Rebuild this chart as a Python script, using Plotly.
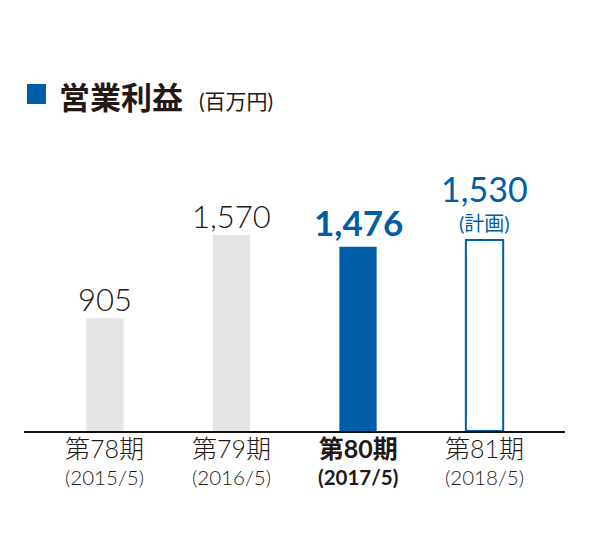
import plotly.graph_objects as go

periods = ["第78期", "第79期", "第80期", "第81期"]
years = ["(2015/5)", "(2016/5)", "(2017/5)", "(2018/5)"]
values = [905, 1570, 1476, 1530]
plan_note = "(計画)"

BLUE = "#005DA8"
GRAY = "#E5E5E5"
DARK = "#231815"
JP = "Noto Sans CJK JP"
MIX = "Lato, Noto Sans CJK JP"

W, H = 600, 534
ML, MR, MT, MB = 24, 35, 100, 103
PW, PH = W - ML - MR, H - MT - MB


def px_x(px):
    return (px - ML) / PW


def px_y(py):
    return (H - MB - py) / PH


fill_colors = [GRAY, GRAY, BLUE, "white"]
line_colors = [GRAY, GRAY, BLUE, BLUE]
line_widths = [0, 0, 0, 2]

x = list(range(len(values)))

fig = go.Figure()
fig.add_trace(go.Bar(
    x=x, y=values, width=0.295,
    marker=dict(color=fill_colors, line=dict(color=line_colors, width=line_widths)),
    hoverinfo="skip",
))

annotations = []
label_styles = [
    dict(size=31, color=DARK, weight=300),
    dict(size=31, color=DARK, weight=300),
    dict(size=35, color=BLUE, weight=700),
    dict(size=34, color=BLUE, weight=400),
]
label_shift = [-2, -2, 2, 3]
for i, v in enumerate(values):
    st = label_styles[i]
    if i == 3:
        annotations.append(dict(
            x=i, y=v, xref="x", yref="y", showarrow=False, yanchor="bottom", yshift=label_shift[i],
            text=f"<span style='font-size:{st['size']}px'>{v:,}</span><br>"
                 f"<span style='font-size:20px'>{plan_note}</span>",
            font=dict(family=MIX, size=22, color=st["color"], weight=st["weight"]),
        ))
    else:
        annotations.append(dict(
            x=i, y=v, xref="x", yref="y", text=f"{v:,}", showarrow=False,
            yanchor="bottom", yshift=label_shift[i],
            font=dict(family=MIX, size=st["size"], color=st["color"], weight=st["weight"]),
        ))

for i, (p, yr) in enumerate(zip(periods, years)):
    bold = i == 2
    t1 = f"<span style='font-size:25px'>{p}</span>"
    t2 = yr
    txt = f"<b>{t1}<br>{t2}</b>" if bold else f"{t1}<br>{t2}"
    annotations.append(dict(
        x=i, y=px_y(431), xref="x", yref="paper", yanchor="top", showarrow=False,
        text=txt,
        font=dict(family=MIX, size=20.5, color=DARK, weight=700 if bold else 300),
    ))

annotations.append(dict(
    x=px_x(57), y=px_y(95), xref="paper", yref="paper", xanchor="left", yanchor="middle",
    showarrow=False, text="<b>営業利益</b>",
    font=dict(family=JP, size=31, color=DARK),
))
annotations.append(dict(
    x=px_x(197), y=px_y(100), xref="paper", yref="paper", xanchor="left", yanchor="middle",
    showarrow=False, text="(百万円)",
    font=dict(family=MIX, size=21, color=DARK, weight=400),
))

fig.add_shape(type="rect", xref="paper", yref="paper",
              x0=px_x(27), x1=px_x(46), y0=px_y(104), y1=px_y(84),
              fillcolor=BLUE, line=dict(width=0))

fig.update_layout(
    width=W, height=H,
    margin=dict(l=ML, r=MR, t=MT, b=MB),
    paper_bgcolor="white", plot_bgcolor="white",
    showlegend=False,
    annotations=annotations,
    xaxis=dict(range=[-0.64, 3.636], showticklabels=False, showgrid=False, zeroline=False,
               showline=True, linecolor="#111111", linewidth=2, ticks=""),
    yaxis=dict(range=[0, 2650], visible=False, showgrid=False, zeroline=False),
)

fig.write_html("out.html", config={"displayModeBar": False},
               post_script="document.body.style.margin='0';")
